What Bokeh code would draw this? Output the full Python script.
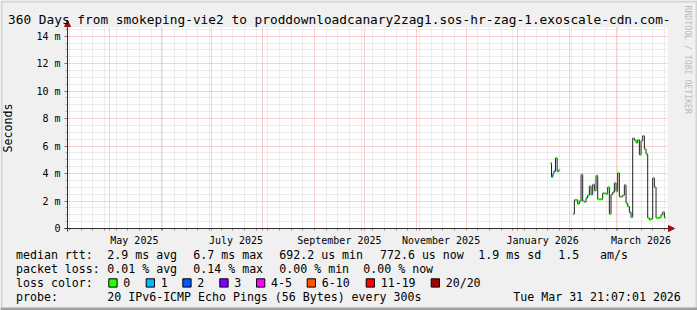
from datetime import datetime, timedelta
import math
from bokeh.plotting import figure
from bokeh.models import (FixedTicker, Range1d, Label, BoxAnnotation, Grid, Arrow,
                          NormalHead, ColumnDataSource, DatetimeTickFormatter)
from bokeh.embed import file_html
from bokeh.resources import INLINE

# ---------------- data ----------------
title_text = "360 Days from smokeping-vie2 to proddownloadcanary2zag1.sos-hr-zag-1.exoscale-cdn.com-"
end_time = datetime(2026, 3, 31, 21, 7, 1)
start_time = end_time - timedelta(days=360)

jan_times = ["2026-01-20 16:00", "2026-01-21 07:00", "2026-01-22 02:00", "2026-01-22 16:00",
             "2026-01-23 16:00", "2026-01-24 16:00", "2026-01-25 16:00"]
jan_median_ms = [4.76, 3.75, 3.96, 4.16, 5.13, 4.16, 4.28]
jan_loss = [0, 1, 1, 1, 0, 0, 0]

fm_times = ["2026-02-03", "2026-02-04", "2026-02-05", "2026-02-06", "2026-02-07", "2026-02-08",
            "2026-02-09", "2026-02-10", "2026-02-11", "2026-02-12", "2026-02-13", "2026-02-14",
            "2026-02-15", "2026-02-16", "2026-02-17", "2026-02-18", "2026-02-19", "2026-02-20",
            "2026-02-21", "2026-02-22", "2026-02-23", "2026-02-24", "2026-02-25", "2026-02-26",
            "2026-02-27", "2026-02-28", "2026-03-01", "2026-03-02", "2026-03-03", "2026-03-04",
            "2026-03-05", "2026-03-06", "2026-03-07", "2026-03-08", "2026-03-09", "2026-03-10",
            "2026-03-11", "2026-03-12", "2026-03-13", "2026-03-14", "2026-03-15", "2026-03-16",
            "2026-03-17", "2026-03-18", "2026-03-19", "2026-03-20", "2026-03-21", "2026-03-22",
            "2026-03-23", "2026-03-24", "2026-03-25", "2026-03-26", "2026-03-27", "2026-03-28",
            "2026-03-29", "2026-03-30"]
fm_median_ms = [1.06, 2.08, 2.08, 1.79, 2.00, 3.92, 2.00, 1.93, 2.22, 2.42, 3.08, 2.47,
                3.19, 2.76, 3.84, 2.13, 2.13, 2.13, 2.56, 2.56, 2.51, 3.00, 1.06, 2.47,
                2.63, 3.31, 2.71, 4.04, 2.32, 2.32, 2.42, 3.17, 1.84, 1.60, 1.18, 0.82,
                6.57, 6.43, 6.25, 6.45, 5.37, 6.38, 6.74, 5.78, 5.42, 0.77, 0.65, 0.70,
                3.67, 3.00, 0.77, 0.77, 0.80, 0.99, 1.18, 0.77]
fm_loss = [0, 0, 0, 0, 0, 0, 0, 0, 1, 0, 0, 1,
           1, 0, 0, 0, 0, 0, 0, 0, 0, 0, 0, 0,
           1, 0, 0, 0, 0, 0, 0, 0, 0, 0, 1, 0,
           0, 0, 0, 0, 0, 0, 0, 0, 0, 0, 0, 0,
           0, 0, 0, 0, 0, 0, 0, 0]

y_ticks = [0, 2, 4, 6, 8, 10, 12, 14]
y_tick_labels = ["0", "2 m", "4 m", "6 m", "8 m", "10 m", "12 m", "14 m"]

loss_labels = ["0", "1", "2", "3", "4-5", "6-10", "11-19", "20/20"]
loss_colors = ["#26ff00", "#00b8ff", "#0059ff", "#7e00ff", "#ff00ff", "#ff5500", "#ff0000", "#a10000"]

median_row = ["median rtt:", "2.9 ms avg", "6.7 ms max", "692.2 us min", "772.6 us now", "1.9 ms sd", "1.5", "am/s"]
loss_row = ["packet loss:", "0.01 % avg", "0.14 % max", "0.00 % min", "0.00 % now"]
probe_row = ["probe:", "20 IPv6-ICMP Echo Pings (56 Bytes) every 300s", "Tue Mar 31 21:07:01 2026"]

# ---------------- layout constants ----------------
W, H = 697, 310
PL, PR, PT, PB = 67, 667, 27, 228     # plot area in canvas px
Y_TOP = 14.63
MONO = "DejaVu Sans Mono"


def ms(dt):
    return (dt - datetime(1970, 1, 1)).total_seconds() * 1000.0


t0, t1 = ms(start_time), ms(end_time)
mspp = (t1 - t0) / (PR - PL)           # ms per pixel
upp = Y_TOP / (PB - PT)                # y units per pixel

p = figure(width=W, height=H, x_axis_type="datetime", output_backend="svg", toolbar_location=None,
           x_range=Range1d(t0 - PL * mspp, t1 + (W - PR) * mspp),
           y_range=Range1d(-(H - PB) * upp, Y_TOP + PT * upp),
           min_border=0, min_border_left=0, min_border_right=0, min_border_top=0, min_border_bottom=0)
p.background_fill_color = "#F0F0F0"
p.border_fill_color = "#F0F0F0"
p.outline_line_color = None
p.xgrid.visible = False
p.ygrid.visible = False

# plot area (white canvas)
p.add_layout(BoxAnnotation(left=t0, right=t1, bottom=0, top=Y_TOP, fill_color="white", fill_alpha=1.0,
                           line_color=None, level="underlay"))

# grids
month_starts = []
yy, mm = 2025, 5
while (yy, mm) <= (2026, 3):
    month_starts.append(datetime(yy, mm, 1))
    mm += 1
    if mm > 12:
        yy, mm = yy + 1, 1
weeks = []
d = datetime(2025, 4, 7)
while d < end_time:
    if d.day != 1:
        weeks.append(d)
    d += timedelta(days=7)
ygrid_minor = [v / 2 for v in range(0, 30) if v % 4 != 0]

for dim, ticks, col in ((0, [ms(w) for w in weeks], "#D8D8D8"),
                        (1, ygrid_minor, "#D8D8D8"),
                        (0, [ms(w) for w in month_starts], "#F4A0A0"),
                        (1, y_ticks[1:], "#F4A0A0")):
    g = Grid(dimension=dim, ticker=FixedTicker(ticks=ticks), grid_line_color=col, grid_line_dash="1 1",
             bounds=(t0, t1) if dim == 0 else (0, Y_TOP),
             cross_bounds=(0, Y_TOP) if dim == 0 else (t0, t1))
    p.add_layout(g)

# axes (fixed at the plot-area edges)
label_ms = [ms(dt + timedelta(days=15)) for dt in month_starts[::2]]
xa = p.xaxis[0]
xa.fixed_location = 0
xa.bounds = (t0, t1)
xa.ticker = FixedTicker(ticks=label_ms, minor_ticks=[ms(w) for w in month_starts + weeks])
fmt = "%B %Y"
xa.formatter = DatetimeTickFormatter(months=fmt, days=fmt, years=fmt, hours=fmt, minutes=fmt)
xa.major_tick_out = 0
xa.major_tick_in = 0
xa.minor_tick_out = 2
xa.minor_tick_in = 0
xa.minor_tick_line_color = "#C08080"
xa.axis_line_color = None
xa.major_label_text_font = MONO
xa.major_label_text_font_size = "10px"
xa.major_label_text_color = "black"
xa.major_label_standoff = 4

ya = p.yaxis[0]
ya.fixed_location = t0
ya.bounds = (0, Y_TOP)
ya.ticker = FixedTicker(ticks=y_ticks, minor_ticks=ygrid_minor)
ya.major_label_overrides = {t: l for t, l in zip(y_ticks, y_tick_labels)}
ya.major_tick_out = 3
ya.major_tick_in = 0
ya.major_tick_line_color = "#A06060"
ya.minor_tick_out = 2
ya.minor_tick_in = 0
ya.minor_tick_line_color = "#B0B0B0"
ya.axis_line_color = None
ya.major_label_text_font = MONO
ya.major_label_text_font_size = "10px"
ya.major_label_text_color = "black"
ya.major_label_standoff = 4
ya.axis_label = "Seconds"
ya.axis_label_text_font = MONO
ya.axis_label_text_font_size = "11.6px"
ya.axis_label_text_font_style = "normal"
ya.axis_label_text_color = "black"
ya.axis_label_standoff = 18

# data
DAY = 86400000.0


def make_source(times, vals, loss):
    tm = [ms(datetime.fromisoformat(s)) for s in times]
    widths = [tm[i + 1] - tm[i] if i + 1 < len(tm) else DAY for i in range(len(tm))]
    mids = [tm[i] + widths[i] / 2 for i in range(len(tm))]
    cols = [loss_colors[l] for l in loss]
    return ColumnDataSource(dict(t=tm, v=vals, mid=mids, w=[x * 0.6 for x in widths], c=cols))


for src in (make_source(jan_times, jan_median_ms, jan_loss),
            make_source(fm_times, fm_median_ms, fm_loss)):
    p.step("t", "v", source=src, mode="after", line_color="#202020", line_width=1)
    p.rect(x="mid", y="v", width="w", height=2.5, height_units="screen",
           fill_color="c", line_color=None, source=src)

# axis lines with arrow heads
p.add_layout(Arrow(x_start=t0, y_start=-3 * upp, x_end=t0, y_end=(PB - 20) * upp,
                   line_color="#303030", line_width=1,
                   end=NormalHead(size=6, fill_color="#9E1010", line_color="#9E1010")))
p.add_layout(Arrow(x_start=t0 - 3 * mspp, y_start=0, x_end=t1 + 7 * mspp, y_end=0,
                   line_color="#303030", line_width=1,
                   end=NormalHead(size=6, fill_color="#9E1010", line_color="#9E1010")))


# ---------- screen-space text (canvas coords, frame == canvas) ----------
def lab(text, cx, cy, size="11.6px", color="black", align="left", angle=0.0):
    p.add_layout(Label(x=cx, y=H - cy, x_units="screen", y_units="screen", text=text,
                       text_font=MONO, text_font_size=size, text_color=color,
                       text_align=align, text_baseline="middle", angle=angle))


def box(cx0, cy0, cx1, cy1, color, line=None):
    p.add_layout(BoxAnnotation(left=cx0, right=cx1, top=H - cy0, bottom=H - cy1,
                               left_units="screen", right_units="screen",
                               top_units="screen", bottom_units="screen",
                               fill_color=color, fill_alpha=1.0,
                               line_color=line if line else None, line_width=1, line_alpha=1.0))


lab(title_text, 7.5, 19, size="12.8px")
lab("RRDTOOL / TOBI OETIKER", 687, 5, size="8.2px", color="#BBBBBB", angle=-math.pi / 2)

row1_x = [16, 107.3, 193.3, 279.3, 380, 478.3, 558.3, 600]
for t, x in zip(median_row, row1_x):
    lab(t, x - 0.5, 254)
row2_x = [16, 107.3, 193.3, 279.3, 363.3]
for t, x in zip(loss_row, row2_x):
    lab(t, x - 0.5, 268)
lab("loss color:", 15.5, 282)
box_x = [108.3, 145.7, 182.3, 219.3, 256, 306.7, 365.7, 430.7]
for t, c, x in zip(loss_labels, loss_colors, box_x):
    box(x, 278.3, x + 8.3, 286.6, c, "black")
    lab(t, x + 14.5, 282)
row4_x = [16, 107.3, 513.3]
for t, x in zip(probe_row, row4_x):
    lab(t, x - 0.5, 296)

# 3D border
box(0, 0, W, 2, "#D4D4D4")
box(0, 0, 2, H, "#D4D4D4")
box(W - 2, 0, W, H, "#D4D4D4")
box(0, H - 3, W, H, "#A0A0A0")

open("out.html", "w").write(file_html(p, INLINE))
